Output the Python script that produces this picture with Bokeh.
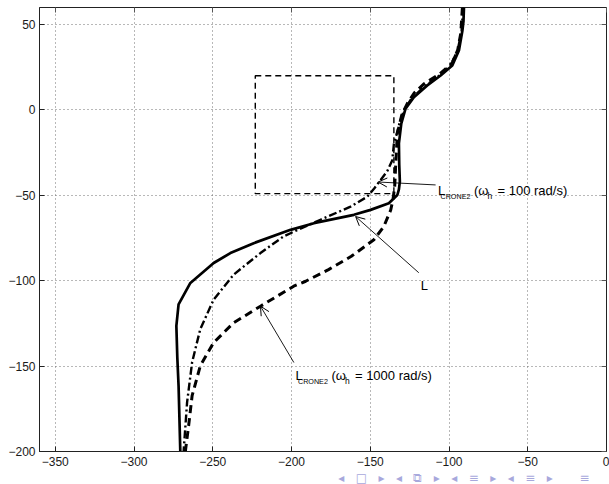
from bokeh.plotting import figure
from bokeh.models import Range1d, FixedTicker, LinearAxis, Arrow, OpenHead, Title
from bokeh.core.properties import value
from bokeh.embed import file_html
from bokeh.resources import INLINE

# ---------------- data ----------------
x_ticks = [-350, -300, -250, -200, -150, -100, -50, 0]
x_tick_labels = ["\u2212350", "\u2212300", "\u2212250", "\u2212200", "\u2212150", "\u2212100", "\u221250", "0"]
y_ticks = [-200, -150, -100, -50, 0, 50]
y_tick_labels = ["\u2212200", "\u2212150", "\u2212100", "\u221250", "0", "50"]

# open loop L (solid)
L_phase = [-90.5, -90.8, -91.5, -93.7, -97.9, -105.3, -113.8, -122.3, -127.6, -130.3, -131.8,
           -131.6, -131.2, -131.8, -132.8, -138.2, -149.8, -160.4, -185.8, -200.6, -224.0,
           -238.8, -249.4, -264.2, -271.7, -273.1, -272.5, -271.7, -270.6]
L_gain = [60, 52, 46.4, 34.8, 26.0, 20.2, 14.4, 7.5, 0.8, -8.0, -19.6,
          -32.0, -42.0, -46.5, -49.8, -54.6, -58.5, -61.4, -66.3, -70.2, -78.0,
          -83.8, -89.6, -101.3, -113.9, -126.5, -145.0, -161.5, -200.0]

# L_CRONE2, omega_h = 100 rad/s (dash-dot)
c100_phase = [-91.0, -92.0, -94.5, -99.0, -107.0, -116.0, -124.0, -128.5, -131.5, -133.5, -135.0,
              -136.0, -139.0, -143.4, -147.5, -151.9, -162.5, -181.6, -194.3, -205.0, -219.7,
              -236.7, -249.4, -257.9, -263.1, -266.3, -268.5]
c100_gain = [60, 46, 35, 26, 19.5, 13.5, 6.5, 0, -8, -15, -20,
             -29.4, -35.5, -41, -46, -50.8, -56.6, -64.3, -69.5, -74, -83.8,
             -96.4, -111, -128.3, -147.7, -171.2, -200]

# L_CRONE2, omega_h = 1000 rad/s (dashed)
c1000_phase = [-91.5, -92.5, -94.5, -98.0, -106.0, -115.9, -122.0, -126.5, -130.0, -132.8, -133.9,
               -134.5, -135.5, -137.0, -141.4, -147.7, -162.0, -176.5, -191.0, -198.6, -219.7,
               -236.7, -249.4, -257.9, -263.1, -265.3, -267.4]
c1000_gain = [60, 45, 35, 27.5, 21, 15.3, 10, 3.7, -3, -13.8, -33.3,
              -45, -52, -58.6, -68.3, -76, -85.7, -93.5, -100.3, -103.2, -114.9,
              -124.6, -136.2, -149.8, -167.3, -184.8, -200]

# template (dashed rectangle)
template_phase = [-223.0, -135.0]
template_gain = [-49.0, 20.0]

# annotations: text anchor (left, baseline), arrow start and arrow tip
ann_x = [-107.0, -118.0, -197.5]
ann_y = [-46.9, -102.8, -155.3]
ann_main = ["L", "L", "L"]
ann_sub = ["CRONE2", "", "CRONE2"]
ann_value = ["= 100 rad/s)", "", "= 1000 rad/s)"]
arrow_x0 = [-108.5, -119.2, -198.5]
arrow_y0 = [-43.9, -95.3, -147.9]
arrow_x1 = [-145.0, -159.3, -219.7]
arrow_y1 = [-42.2, -62.4, -114.9]

nav_symbols = ["\u25c2", "\u25a1", "\u25b8", "\u25c2", "\u29c9", "\u25b8",
               "\u25c2", "\u2261", "\u25b8", "\u25c2", "\u2261", "\u25b8"]
nav_last = "\u2261"

# ---------------- figure ----------------
FONT = "Liberation Sans"
p = figure(width=609, height=484, x_range=Range1d(-360, 0), y_range=Range1d(-200, 60),
           output_backend="svg", toolbar_location=None,
           min_border_left=39, min_border_right=3, min_border_top=7, min_border_bottom=31,
           background_fill_color="white", border_fill_color="white",
           outline_line_color="#222222", outline_line_width=1)

for ax, ticks, labels in ((p.xaxis[0], x_ticks, x_tick_labels), (p.yaxis[0], y_ticks, y_tick_labels)):
    ax.ticker = FixedTicker(ticks=ticks)
    ax.major_label_overrides = {t: s for t, s in zip(ticks, labels)}
    ax.major_label_text_font = FONT
    ax.major_label_text_font_size = "12px"
    ax.major_label_text_color = "#1a1a1a"
    ax.major_tick_in = 5
    ax.major_tick_out = 0
    ax.minor_tick_line_color = None
    ax.axis_line_color = "#222222"
    ax.major_tick_line_color = "#222222"
p.xaxis.major_label_standoff = 5
p.yaxis.major_label_standoff = 4

for loc, ticks in (("right", y_ticks), ("above", x_ticks)):
    ax2 = LinearAxis(ticker=FixedTicker(ticks=ticks),
                     major_label_overrides={t: "" for t in ticks},
                     major_label_text_font_size="0px", major_label_standoff=0,
                     major_tick_in=5, major_tick_out=0, minor_tick_line_color=None,
                     axis_line_color=None, major_tick_line_color="#555555")
    p.add_layout(ax2, loc)

p.xgrid.ticker = FixedTicker(ticks=x_ticks)
p.ygrid.ticker = FixedTicker(ticks=y_ticks)
for g in (p.xgrid[0], p.ygrid[0]):
    g.grid_line_color = "#707070"
    g.grid_line_dash = "1 3"
    g.grid_line_width = 1

# template
p.quad(left=[template_phase[0]], right=[template_phase[1]],
       bottom=[template_gain[0]], top=[template_gain[1]],
       fill_color=None, line_color="black", line_dash="6 4", line_width=1.4)

# curves
p.line(c1000_phase, c1000_gain, line_color="black", line_width=3, line_dash="8 5")
p.line(c100_phase, c100_gain, line_color="black", line_width=2.4, line_dash="8 3 2 3")
p.line(L_phase, L_gain, line_color="black", line_width=2.7, line_join="round")

# arrows
for xs, ys, xe, ye in zip(arrow_x0, arrow_y0, arrow_x1, arrow_y1):
    p.add_layout(Arrow(end=OpenHead(size=9, line_width=1, line_color="black"),
                       x_start=xs, y_start=ys, x_end=xe, y_end=ye,
                       line_color="black", line_width=0.9))

# annotation texts (main text, subscripts)
def txt(x, y, s, dx, dy, size):
    p.text(x=[x], y=[y], text=[s], x_offset=dx, y_offset=dy,
           text_font=value(FONT), text_font_size=size, text_color="black",
           text_align="left", text_baseline="alphabetic")

for x, y, m, sub, val in zip(ann_x, ann_y, ann_main, ann_sub, ann_value):
    txt(x, y, m, 0, 0, "13px")
    if sub:
        txt(x, y, sub, 2.5, 6, "7.2px")
        txt(x, y, "(\u03c9", 36, 0, "13px")
        txt(x, y, "h", 49.5, 6, "8.5px")
        txt(x, y, val, 59.5, 0, "13px")

# beamer navigation symbols (decoration under the axes)
sep = "\u00a0" * 3
nav_text = sep.join(nav_symbols) + "\u00a0" * 7 + nav_last
p.add_layout(Title(text=nav_text, align="right", offset=17, standoff=0,
                   text_font="DejaVu Sans", text_font_style="normal",
                   text_font_size="12px", text_color="#a8a8dc"), "below")

open("out.html", "w").write(file_html(p, INLINE))
